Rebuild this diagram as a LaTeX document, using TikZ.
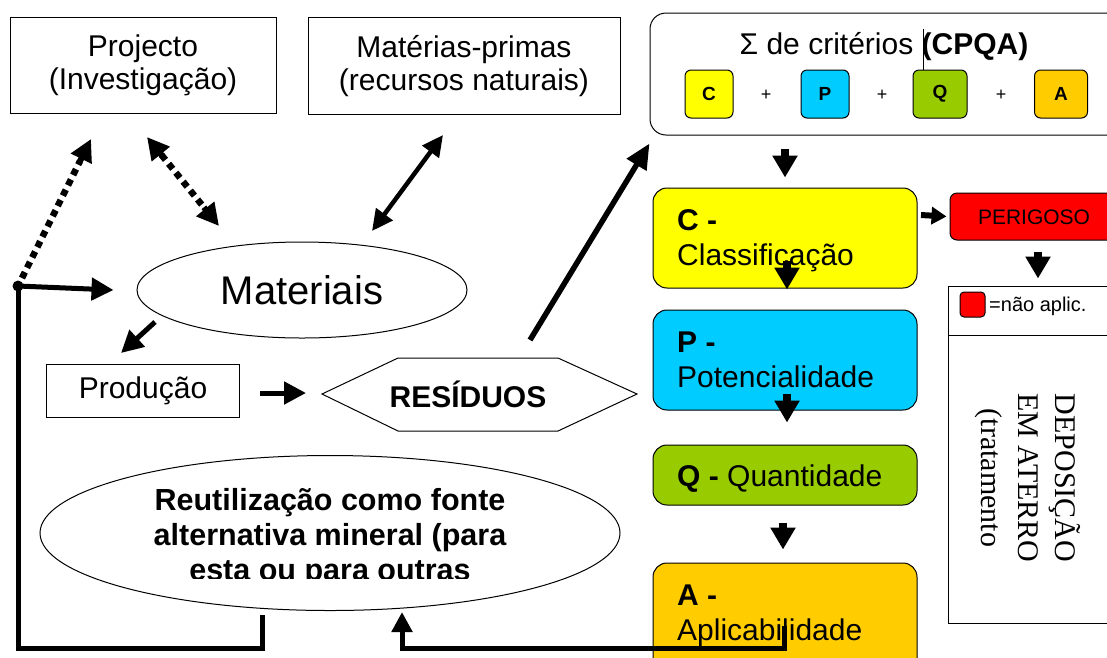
\documentclass[tikz,border=0pt]{standalone}
\usepackage{fontspec}
\setmainfont{Liberation Sans}
\newfontfamily\seriffont{Liberation Serif}
\usetikzlibrary{arrows.meta,shapes.geometric,calc}
\definecolor{cyel}{RGB}{255,255,0}
\definecolor{ccya}{RGB}{0,204,255}
\definecolor{cgrn}{RGB}{153,204,0}
\definecolor{corg}{RGB}{255,204,0}
\definecolor{cred}{RGB}{255,0,0}
\newcommand{\fs}[2]{\fontsize{#1}{#2}\selectfont}
\begin{document}
\begin{tikzpicture}[x=1pt,y=-1pt,
  plainbox/.style={draw, line width=1pt, inner sep=0pt, align=center},
  stagebox/.style={draw, line width=1pt, rounded corners=14pt, minimum width=264pt, inner sep=0pt},
  minibox/.style={draw, line width=1pt, rounded corners=6pt, minimum height=48pt, inner sep=0pt, font=\fs{19}{22}\bfseries},
  stagetxt/.style={anchor=base west, inner sep=0pt, font=\fs{30}{35}},
  arr/.style={line width=5pt, -{Triangle[length=22pt,width=22pt]}},
  sarr/.style={line width=8pt, -{Triangle[length=22pt,width=24pt]}},
  darr/.style={line width=4.5pt, {Triangle[length=21pt,width=20pt]}-{Triangle[length=21pt,width=20pt]}},
  dotarr/.style={line width=6.5pt, dash pattern=on 6.5pt off 5pt},
  tipsolid/.style={line width=6pt, -{Triangle[length=22pt,width=22pt]}},
  loopline/.style={line width=5pt, line join=miter}
]
\useasboundingbox (0,0) rectangle (1107,657);
\clip (0,0) rectangle (1107,657);

% top boxes
\node[plainbox, minimum width=266pt, minimum height=96pt, font=\fs{30}{33}] (proj) at (143,65) {Projecto\\(Investigação)};
\node[plainbox, minimum width=312pt, minimum height=97pt, font=\fs{30}{33}] (mat) at (464,66) {Matérias-primas\\(recursos naturais)};

% CPQA box
\node[draw, line width=1pt, rounded corners=16pt, minimum width=480pt, minimum height=122pt] (cpqa) at (890,74) {};
\node[font=\fs{30}{35}, inner sep=0pt] (ttl) at (884,47) {Σ de critérios \textbf{(CPQA)}};
\draw[line width=0.8pt] (923,29) -- (923,71);
\node[minibox, fill=cyel, minimum width=48pt] (sc) at (709,94) {C};
\node[minibox, fill=ccya, minimum width=48pt] (sp) at (825,94) {P};
\node[minibox, fill=cgrn, minimum width=54pt] (sq) at (940,94) {Q};
\node[minibox, fill=corg, minimum width=53pt] (sa) at (1061,94) {A};
\node[font=\fs{18}{21}] (p1) at (766,95) {+};
\node[font=\fs{18}{21}] (p2) at (882,95) {+};
\node[font=\fs{18}{21}] (p3) at (1001,95) {+};

% stage boxes
\node[stagebox, fill=cyel, minimum height=100pt] (C) at (785,238) {};
\node[stagetxt] (Ct1) at (677,230) {\textbf{C -}};
\node[stagetxt] (Ct2) at (677,265) {Classificação};
\node[stagebox, fill=ccya, minimum height=100pt] (P) at (785,360) {};
\node[stagetxt] (Pt1) at (677,352) {\textbf{P -}};
\node[stagetxt] (Pt2) at (677,387) {Potencialidade};
\node[stagebox, fill=cgrn, minimum height=60pt] (Q) at (785,475) {};
\node[stagetxt] (Qt) at (677,486) {\textbf{Q -} Quantidade};
\node[stagebox, fill=corg, minimum height=120pt] (A) at (785,623) {};
\node[stagetxt] (At1) at (677,605) {\textbf{A -}};
\node[stagetxt] (At2) at (677,640) {Aplicabilidade};

% perigoso
\node[draw, line width=1pt, rounded corners=7pt, fill=cred, minimum width=180pt, minimum height=47pt] (per) at (1040,216.5) {};
\node[font=\fs{21}{25}, inner sep=0pt] (pert) at (1034,217) {PERIGOSO};

% legend / deposition box
\draw[line width=1pt] (1120,286) -- (948,286) -- (948,623) -- (1120,623);
\draw[line width=1pt] (948,335) -- (1120,335);
\node[draw, line width=1pt, rounded corners=4pt, fill=cred, minimum width=25pt, minimum height=25pt, inner sep=0pt] (leg) at (972.5,304.5) {};
\node[font=\fs{20}{24}, anchor=west, inner sep=0pt] (legt) at (989,306) {=não aplic.};
\node[font=\seriffont\fs{30}{37}, rotate=-90, align=center, inner sep=0pt] (dep) at (1028,478) {DEPOSIÇÃO\\EM ATERRO\\(tratamento};

% Materiais
\node[draw, line width=1pt, ellipse, minimum width=330pt, minimum height=96pt, inner sep=0pt, font=\fs{40}{46}] (mats) at (302,290) {Materiais};

% Produção
\node[plainbox, minimum width=193pt, minimum height=53pt, font=\fs{30}{35}] (prod) at (143,391) {Produção};

% Residuos hexagon
\draw[line width=1pt] (322,394) -- (398,358) -- (558,358) -- (637,394) -- (558,431) -- (398,431) -- cycle;
\node[font=\fs{30}{35}\bfseries, inner sep=0pt] (res) at (468,394) {RESÍDUOS};

% Reutilizacao ellipse
\node[draw, line width=1pt, ellipse, minimum width=580pt, minimum height=155pt, inner sep=0pt] (reu) at (330,533) {};
\begin{scope}
\clip (0,0) rectangle (1107,578);
\node[font=\fs{30.5}{35}\bfseries, align=center, inner sep=0pt] (reut) at (330,538) {Reutilização como fonte\\alternativa mineral (para\\esta ou para outras};
\end{scope}

% junction
\coordinate (j) at (18,286);
\fill (j) circle (5.5pt);
\draw[arr] (j) -- ([xshift=-23pt]mats.west);
\coordinate (loopend) at (262,615);
\draw[loopline] (j) -- (18,648) -- (262,648) -- (loopend);

% dotted arrows
\coordinate (d1s) at (22,278);
\coordinate (d1e) at (91,139);
\draw[dotarr] (d1s) -- ($(d1s)!0.84!(d1e)$);
\draw[tipsolid] ($(d1s)!0.83!(d1e)$) -- (d1e);
\coordinate (d2s) at (147,137);
\coordinate (d2e) at (219,226);
\draw[dotarr] ($(d2s)!0.2!(d2e)$) -- ($(d2s)!0.8!(d2e)$);
\draw[tipsolid] ($(d2s)!0.21!(d2e)$) -- (d2s);
\draw[tipsolid] ($(d2s)!0.79!(d2e)$) -- (d2e);

% solid double arrow
\coordinate (m1) at (443,135);
\coordinate (m2) at (372,231);
\draw[darr] (m1) -- (m2);

% other arrows
\draw[arr] (155,322) -- (121,353);
\draw[arr] (260,393) -- (306,393);
\draw[line width=5.5pt, -{Triangle[length=25pt,width=22pt]}] (530,340) -- ([yshift=-8pt]cpqa.south west);
\draw[sarr] ([yshift=-13pt]cpqa.south -| C.north) -- ([yshift=10pt]C.north);
\draw[line width=6pt, -{Triangle[length=15pt,width=17pt]}] (921,215) -- ([xshift=-3pt]per.west);
\draw[sarr] ([xshift=2pt,yshift=28pt]C.south) -- ([xshift=2pt,yshift=-1pt]C.south);
\draw[sarr] ([xshift=2pt,yshift=17pt]P.south) -- ([xshift=2pt,yshift=-12pt]P.south);
\draw[sarr] ([xshift=-2pt,yshift=-17pt]Q.south) -- ([xshift=-2pt,yshift=13pt]A.north);
\draw[sarr] ([xshift=-2pt,yshift=-11pt]per.south) -- ([xshift=-2pt,yshift=-38pt]per.south);
\draw[loopline, -{Triangle[length=20pt,width=20pt]}] (784,626) -- (784,648) -- (402,648) -- (402,612);
\end{tikzpicture}
\end{document}
